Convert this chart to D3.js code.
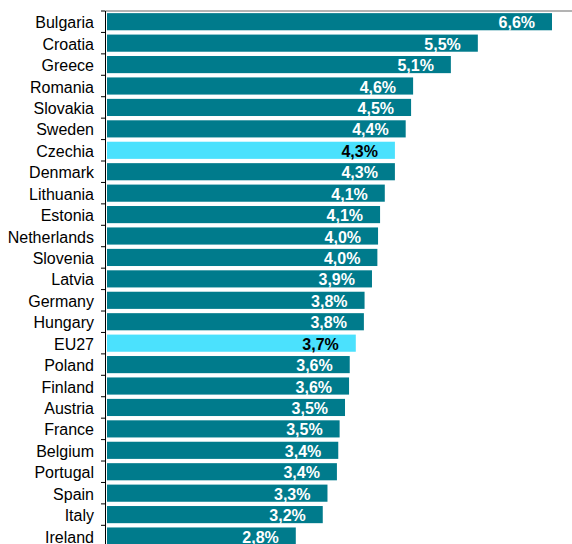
<!DOCTYPE html>
<html lang="en">
<head>
    <meta charset="UTF-8">
    <title>Bars</title>
    <script src="https://d3js.org/d3.v7.min.js"></script>
    <style>
        body { margin: 0; background: #fff; }
        text { font-family: Arial, 'Liberation Sans', sans-serif; font-size: 16px; }
        .val { font-weight: bold; }
    </style>
</head>
<body>
<script>
    const width  = 572;
    const height = 544;

    const countries = ["Bulgaria", "Croatia", "Greece", "Romania", "Slovakia", "Sweden", "Czechia",
        "Denmark", "Lithuania", "Estonia", "Netherlands", "Slovenia", "Latvia", "Germany", "Hungary",
        "EU27", "Poland", "Finland", "Austria", "France", "Belgium", "Portugal", "Spain", "Italy", "Ireland"];
    const values = [6.6, 5.5, 5.1, 4.6, 4.5, 4.4, 4.3, 4.3, 4.1, 4.1, 4.0, 4.0, 3.9, 3.8, 3.8,
        3.7, 3.6, 3.6, 3.5, 3.5, 3.4, 3.4, 3.3, 3.2, 2.8];
    // exact widths, slightly different from the rounded labels
    const barValues = [6.6, 5.5, 5.1, 4.54, 4.51, 4.43, 4.27, 4.27, 4.12, 4.05, 4.02, 4.01, 3.93, 3.82, 3.81,
        3.69, 3.6, 3.59, 3.53, 3.45, 3.43, 3.41, 3.27, 3.2, 2.8];
    const highlight = ["Czechia", "EU27"];

    const data = countries.map((c, i) => ({country: c, value: values[i], bar: barValues[i]}));

    const svg = d3.select("body").append("svg").attr("width", width).attr("height", height);

    const step = 21.43;
    const y = d3.scaleBand()
        .domain(countries)
        .range([11, 11 + step * countries.length])
        .paddingInner(0.2)
        .paddingOuter(0.1);

    const x = d3.scaleLinear()
        .domain([0, d3.max(barValues)])
        .range([107, 552]);

    svg.append("line")
        .attr("x1", 106).attr("x2", width)
        .attr("y1", 11).attr("y2", 11)
        .attr("stroke", "#b3b3b3").attr("stroke-width", 2);

    svg.selectAll("rect.bar")
        .data(data).enter()
        .append("rect").attr("class", "bar")
        .attr("x", x(0))
        .attr("y", d => y(d.country))
        .attr("width", d => x(d.bar) - x(0))
        .attr("height", y.bandwidth())
        .attr("fill", d => highlight.includes(d.country) ? "#4be1fd" : "#007b8c");

    // axis with ticks on band boundaries
    const axisG = svg.append("g");
    axisG.append("line")
        .attr("x1", 105.5).attr("x2", 105.5)
        .attr("y1", 11).attr("y2", height)
        .attr("stroke", "#000").attr("stroke-width", 1);
    axisG.selectAll("line.tick")
        .data(countries).enter()
        .append("line").attr("class", "tick")
        .attr("x1", 101).attr("x2", 105.5)
        .attr("y1", d => y(d) - y.step() * y.paddingOuter())
        .attr("y2", d => y(d) - y.step() * y.paddingOuter())
        .attr("stroke", "#000");

    svg.selectAll("text.cat")
        .data(data).enter()
        .append("text").attr("class", "cat")
        .attr("x", 94)
        .attr("y", d => y(d.country) + y.bandwidth() / 2 + 1)
        .attr("text-anchor", "end")
        .attr("dominant-baseline", "central")
        .attr("fill", "#000")
        .text(d => d.country);

    svg.selectAll("text.val")
        .data(data).enter()
        .append("text").attr("class", "val")
        .attr("x", d => x(d.bar) - 17)
        .attr("y", d => y(d.country) + y.bandwidth() / 2 + 1)
        .attr("text-anchor", "end")
        .attr("dominant-baseline", "central")
        .attr("fill", d => highlight.includes(d.country) ? "#000" : "#fff")
        .text(d => d3.format(".1f")(d.value).replace(".", ",") + "%");
</script>
</body>
</html>
